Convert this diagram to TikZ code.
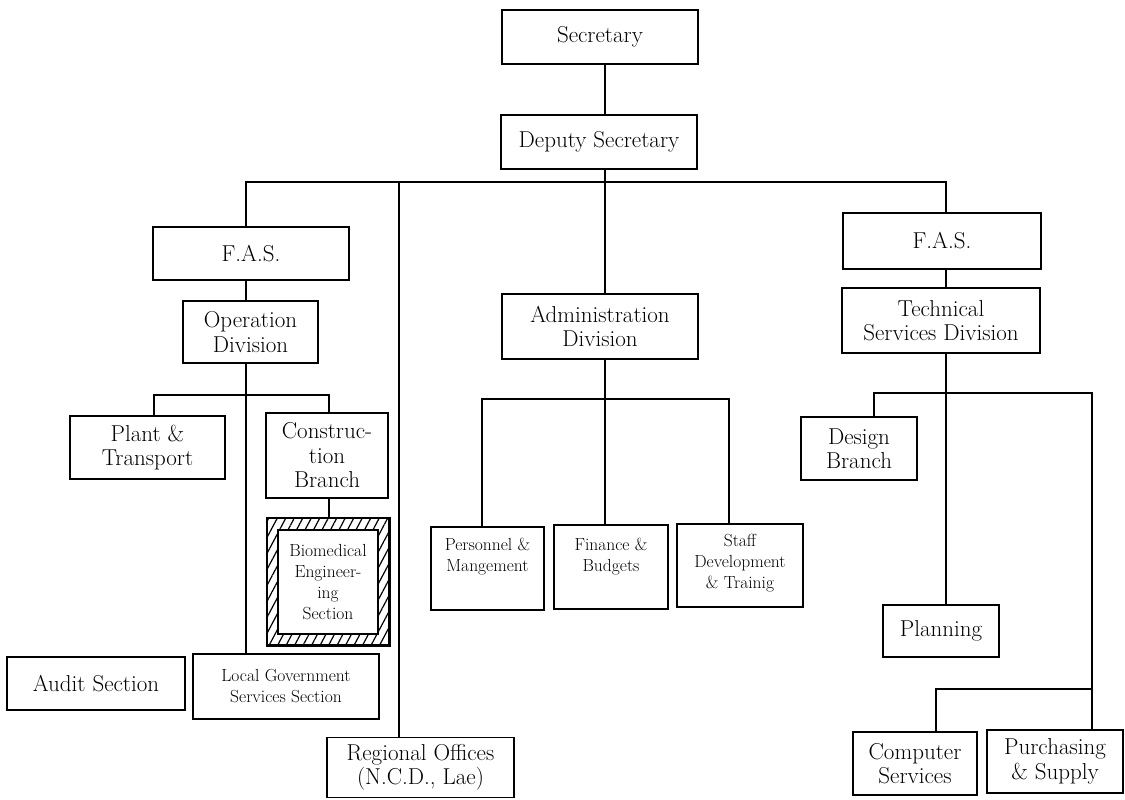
\documentclass[tikz,border=0pt]{standalone}
\usetikzlibrary{patterns.meta}
\newcommand\bigfnt{\fontsize{23}{24.5}\selectfont}
\newcommand\smallfnt{\fontsize{17.5}{21}\selectfont}
\tikzset{
  box/.style={draw, line width=1.5pt, inner sep=0pt, align=center, font=\bigfnt},
  sbox/.style={box, font=\smallfnt},
  conn/.style={line width=1.5pt},
  lbl/.style={inner sep=0pt, align=center, font=\smallfnt},
}
\begin{document}
\begin{tikzpicture}[x=1pt, y=-1pt]
\useasboundingbox[fill=white] (0,0) rectangle (1125,800);
% top
\node[box, minimum width=196, minimum height=54] (sec) at (600,37) {Secretary};
\node[box, minimum width=196, minimum height=54] (dep) at (599,142) {Deputy Secretary};
% left branch
\node[box, minimum width=196, minimum height=53] (fasL) at (251,253.5) {F.A.S.};
\node[box, minimum width=135, minimum height=62] (op) at (250.5,332) {Operation\\Division};
\node[box, minimum width=155, minimum height=63] (plant) at (147.5,447.5) {Plant \&\\Transport};
\node[box, minimum width=122, minimum height=85] (cons) at (327,455.5) {Construc-\\tion\\Branch};
\node[box, minimum width=122, minimum height=127] (bio) at (328,581.5) {};
\fill[pattern={Lines[angle=62, distance=7.5pt, line width=1.2pt]}, even odd rule]
  (bio.north west) rectangle (bio.south east) (278,530) rectangle (378,634);
\draw[line width=1.5pt] (bio.north west) rectangle (bio.south east);
\node[sbox, fill=white, minimum width=100, minimum height=104] (bioin) at (328,582) {Biomedical\\Engineer-\\ing\\Section};
\node[box, minimum width=178, minimum height=53] (audit) at (96,683.5) {Audit Section};
\node[sbox, minimum width=186, minimum height=65] (lgs) at (286,686.5) {Local Government\\Services Section};
\node[box, minimum width=187, minimum height=60] (reg) at (420.5,767.5) {Regional Offices\\(N.C.D., Lae)};
% middle branch
\node[box, minimum width=196, minimum height=65] (adm) at (600,326.5) {Administration\\Division};
\node[box, minimum width=113, minimum height=83] (pers) at (487.5,568.5) {};
\node[lbl] (perst) at (487.5,557) {Personnel \&\\Mangement};
\node[box, minimum width=114, minimum height=84] (fin) at (611,567) {};
\node[lbl] (fint) at (611,557) {Finance \&\\Budgets};
\node[box, minimum width=126, minimum height=83] (staff) at (740,565.5) {};
\node[lbl] (stafft) at (740,563) {Staff\\Development\\\& Trainig};
% right branch
\node[box, minimum width=198, minimum height=56] (fasR) at (942,241) {F.A.S.};
\node[box, minimum width=198, minimum height=65] (tech) at (941,320.5) {Technical\\Services Division};
\node[box, minimum width=116, minimum height=63] (design) at (859,448.5) {Design\\Branch};
\node[box, minimum width=116, minimum height=52] (plan) at (941,631) {Planning};
\node[box, minimum width=124, minimum height=63] (comp) at (915,763.5) {Computer\\Services};
\node[box, minimum width=136, minimum height=63] (purch) at (1055,761.5) {Purchasing\\\& Supply};
% helper coordinates
\coordinate (vMain) at (605,182);
\coordinate (busL) at (246,182);
\coordinate (busR) at (946,182);
\coordinate (vReg) at (399,182);
\coordinate (obL) at (154,395);
\coordinate (obR) at (329,395);
\coordinate (abL) at (482,399);
\coordinate (abR) at (729,399);
\coordinate (tbL) at (874,393);
\coordinate (tbR) at (1092,393);
\coordinate (sbL) at (936,689);
% connectors
\draw[conn] (sec.south -| vMain) -- (dep.north -| vMain);
\draw[conn] (dep.south -| vMain) -- (vMain);
\draw[conn] (fasL.north -| busL) |- (busR) -- (fasR.north -| busR);
\draw[conn] (vReg) -- (reg.north -| vReg);
\draw[conn] (vMain) -- (adm.north -| vMain);
\draw[conn] (fasL.south -| busL) -- (op.north -| busL);
\draw[conn] (op.south -| busL) -- (lgs.north -| busL);
\draw[conn] (plant.north -| obL) |- (obR) -- (cons.north -| obR);
\draw[conn] (cons.south -| obR) -- (bio.north -| obR);
\draw[conn] (adm.south -| vMain) -- (fin.north -| vMain);
\draw[conn] (pers.north -| abL) |- (abR) -- (staff.north -| abR);
\draw[conn] (fasR.south -| busR) -- (tech.north -| busR);
\draw[conn] (tech.south -| busR) -- (plan.north -| busR);
\draw[conn] (design.north -| tbL) |- (tbR) -- (purch.north -| tbR);
\draw[conn] (comp.north -| sbL) |- (tbR |- sbL);
\end{tikzpicture}
\end{document}
